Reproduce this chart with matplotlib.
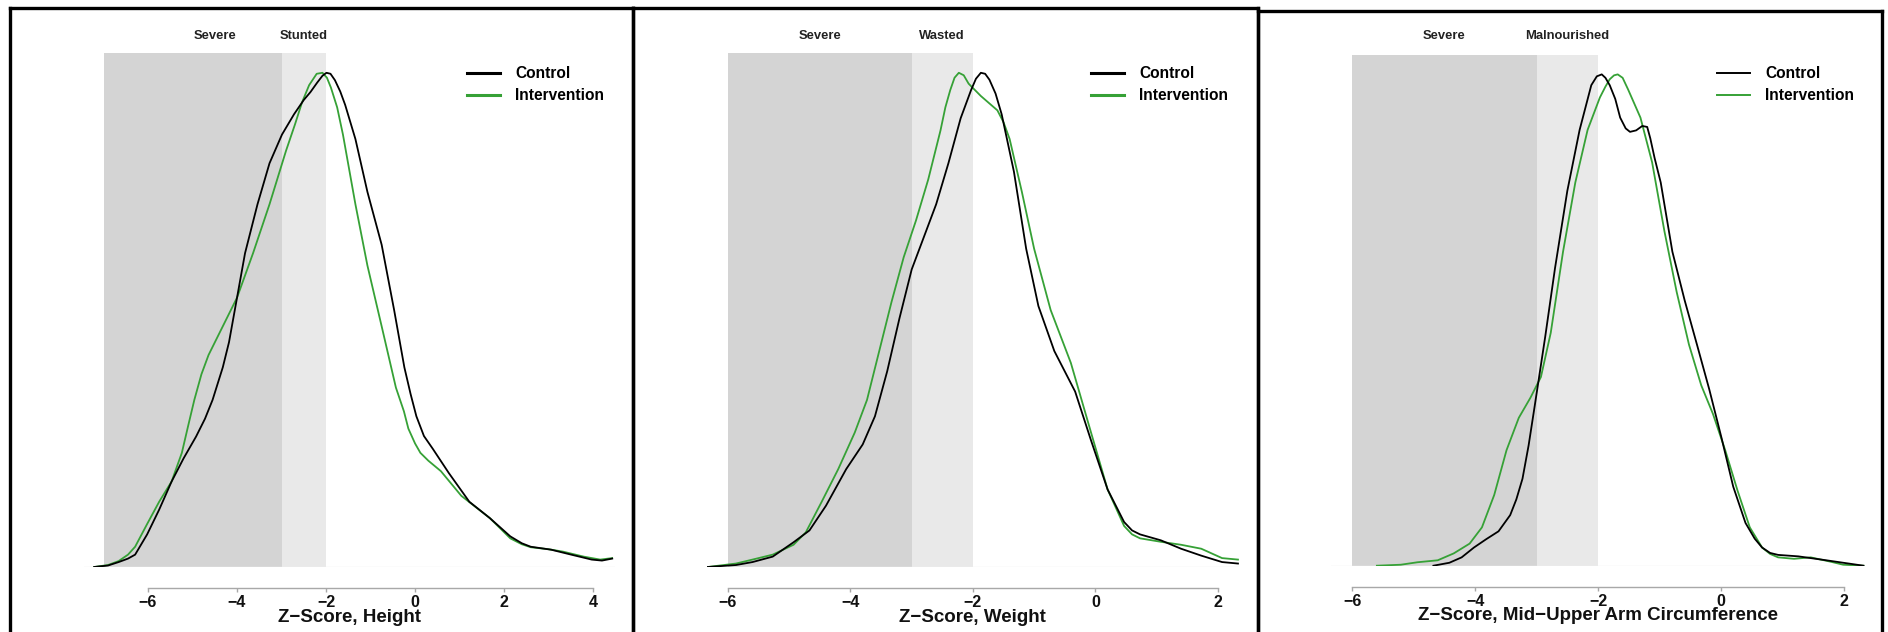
import matplotlib.pyplot as plt
from matplotlib.lines import Line2D

plt.rcParams['font.family'] = ['Liberation Sans Narrow', 'Liberation Sans', 'DejaVu Sans']
plt.rcParams['axes.unicode_minus'] = True

# relative density (peak = 1)

# Height-for-age
heightControlX = [-7.21, -6.9, -6.66, -6.45, -6.29, -6.02, -5.75, -5.47, -5.2, -4.92, -4.72, -4.55, -4.32,
                  -4.18, -4.05, -3.82, -3.54, -3.27, -2.99, -2.72, -2.5, -2.35, -2.2, -2.08, -1.99,
                  -1.9, -1.80, -1.68, -1.57, -1.34, -1.07, -0.75, -0.47, -0.24, -0.1, 0.03, 0.2,
                  0.40, 0.76, 1.22, 1.68, 2.14, 2.40, 2.60, 3.06, 3.51, 3.97, 4.2, 4.43]
heightControlY = [0, 0.003, 0.01, 0.017, 0.025, 0.066, 0.116, 0.173, 0.22, 0.264, 0.3, 0.338, 0.404,
                  0.455, 0.52, 0.635, 0.734, 0.817, 0.875, 0.916, 0.945, 0.961, 0.98, 0.994, 1.0,
                  0.998, 0.985, 0.962, 0.935, 0.866, 0.759, 0.652, 0.52, 0.404, 0.35, 0.305, 0.265,
                  0.239, 0.19, 0.132, 0.099, 0.062, 0.048, 0.041, 0.035, 0.025, 0.015, 0.013, 0.017]
heightInterventionX = [-7.21, -6.9, -6.66, -6.45, -6.29, -6.02, -5.75, -5.47, -5.24, -5.1, -4.96, -4.8,
                       -4.64, -4.32, -4.0, -3.64, -3.27, -2.90, -2.70, -2.54, -2.38, -2.21, -2.08,
                       -1.98, -1.89, -1.75, -1.62, -1.34, -1.07, -0.75, -0.43, -0.25, -0.15, 0.0,
                       0.12, 0.3, 0.58, 1.04, 1.68, 2.14, 2.40, 2.60, 3.0, 3.33, 3.79, 4.16, 4.43]
heightInterventionY = [0, 0.004, 0.012, 0.025, 0.041, 0.087, 0.132, 0.173, 0.231, 0.285, 0.338, 0.39,
                       0.429, 0.487, 0.545, 0.635, 0.734, 0.842, 0.895, 0.94, 0.975, 0.998, 1.0,
                       0.99, 0.97, 0.93, 0.875, 0.734, 0.61, 0.487, 0.363, 0.315, 0.28, 0.25,
                       0.231, 0.215, 0.194, 0.144, 0.099, 0.058, 0.046, 0.040, 0.036, 0.031, 0.021, 0.015, 0.018]

# Weight-for-height
weightControlX = [-6.33, -5.87, -5.6, -5.27, -4.93, -4.67, -4.4, -4.07, -3.8, -3.6, -3.4, -3.2,
                  -3.0, -2.8, -2.6, -2.4, -2.2, -2.03, -1.95, -1.87, -1.8, -1.73, -1.63, -1.53, -1.33,
                  -1.13, -0.93, -0.67, -0.33, -0.07, 0.2, 0.47, 0.6, 0.73, 1.07, 1.4, 1.73, 2.07, 2.33]
weightControlY = [0, 0.004, 0.01, 0.021, 0.05, 0.074, 0.124, 0.198, 0.248, 0.305, 0.396, 0.503,
                  0.602, 0.668, 0.734, 0.817, 0.908, 0.965, 0.988, 1.0, 0.998, 0.986, 0.958, 0.916, 0.80,
                  0.644, 0.528, 0.437, 0.355, 0.256, 0.157, 0.091, 0.074, 0.066, 0.054, 0.037, 0.023, 0.01, 0.007]
weightInterventionX = [-6.33, -5.87, -5.6, -5.27, -4.93, -4.73, -4.47, -4.2, -3.93, -3.73, -3.53, -3.33,
                       -3.13, -2.93, -2.73, -2.53, -2.45, -2.37, -2.3, -2.23, -2.15, -2.07, -1.87, -1.6,
                       -1.5, -1.4, -1.2, -1.0, -0.73, -0.4, -0.07, 0.2, 0.47, 0.6, 0.73, 1.07, 1.4, 1.73,
                       2.07, 2.33]
weightInterventionY = [0, 0.007, 0.015, 0.025, 0.045, 0.07, 0.132, 0.198, 0.272, 0.338, 0.437, 0.536,
                       0.627, 0.701, 0.784, 0.883, 0.93, 0.965, 0.99, 1.0, 0.995, 0.978, 0.953, 0.924,
                       0.9, 0.866, 0.759, 0.644, 0.52, 0.413, 0.272, 0.157, 0.083, 0.066, 0.058, 0.051,
                       0.045, 0.037, 0.018, 0.015]

# Mid-upper arm circumference
muacControlX = [-4.68, -4.42, -4.22, -4.02, -3.82, -3.62, -3.43, -3.33, -3.23, -3.13, -3.03, -2.86, -2.70,
                -2.50, -2.30, -2.11, -2.02, -1.94, -1.88, -1.81, -1.72, -1.64, -1.55, -1.48, -1.38, -1.28,
                -1.2, -1.15, -1.08, -0.98, -0.79, -0.59, -0.39, -0.19, 0.01, 0.20, 0.40, 0.55, 0.67,
                0.8, 0.93, 1.26, 1.66, 1.99, 2.32]
muacControlY = [0, 0.006, 0.017, 0.037, 0.054, 0.07, 0.103, 0.135, 0.177, 0.245, 0.326, 0.466, 0.606,
                0.763, 0.887, 0.978, 0.996, 1.0, 0.993, 0.978, 0.95, 0.912, 0.89, 0.883, 0.886, 0.895,
                0.893, 0.870, 0.83, 0.78, 0.639, 0.54, 0.45, 0.359, 0.26, 0.161, 0.087, 0.055, 0.037,
                0.026, 0.022, 0.019, 0.012, 0.006, 0]
muacInterventionX = [-5.60, -5.21, -4.94, -4.61, -4.35, -4.09, -3.89, -3.69, -3.49, -3.29, -3.10, -2.93,
                     -2.77, -2.57, -2.37, -2.17, -1.97, -1.88, -1.81, -1.74, -1.68, -1.6, -1.51, -1.31,
                     -1.12, -0.92, -0.72, -0.52, -0.32, -0.13, 0.07, 0.27, 0.47, 0.67, 0.8, 0.93, 1.19,
                     1.46, 1.79, 1.99, 2.32]
muacInterventionY = [0, 0.002, 0.007, 0.011, 0.025, 0.045, 0.078, 0.144, 0.235, 0.301, 0.342, 0.384,
                     0.474, 0.639, 0.78, 0.887, 0.953, 0.975, 0.99, 0.998, 1.0, 0.993, 0.969, 0.912,
                     0.821, 0.681, 0.557, 0.45, 0.367, 0.309, 0.235, 0.153, 0.078, 0.037, 0.024, 0.017,
                     0.014, 0.017, 0.008, 0.002, 0]

xLabels = ['Z\u2212Score, Height', 'Z\u2212Score, Weight', 'Z\u2212Score, Mid\u2212Upper Arm Circumference']
zoneLabels = ['Stunted', 'Wasted', 'Malnourished']
severeStart = [-7, -6, -6]
legendLabels = ['Control', 'Intervention']
greenColor = '#36a136'

W, H = 1888, 632
fig = plt.figure(figsize=(W / 100, H / 100), dpi=100)


def fx(px):
    return px / W


def fy(py):
    return 1 - py / H


# layout in pixels: left, right, top (shade top), bottom (baseline), xlim, ticks, legend x, legend lw
layout = [
    dict(L=83.5, R=615.3, T=53, B=567, xlim=(-7.45, 4.5), ticks=[-6, -4, -2, 0, 2, 4], legX=467, legLw=2.2),
    dict(L=706.6, R=1239.2, T=53, B=567, xlim=(-6.35, 2.35), ticks=[-6, -4, -2, 0, 2], legX=1091, legLw=2.2),
    dict(L=1330.8, R=1865.3, T=54.7, B=565.7, xlim=(-6.35, 2.35), ticks=[-6, -4, -2, 0, 2], legX=1717, legLw=1.4),
]
series = [
    (heightControlX, heightControlY, heightInterventionX, heightInterventionY),
    (weightControlX, weightControlY, weightInterventionX, weightInterventionY),
    (muacControlX, muacControlY, muacInterventionX, muacInterventionY),
]

for i in range(3):
    lay = layout[i]
    ax = fig.add_axes([fx(lay['L']), fy(lay['B']), (lay['R'] - lay['L']) / W, (lay['B'] - lay['T']) / H])
    ax.set_facecolor('none')
    ax.set_xlim(lay['xlim'])
    ytop = 1 / 0.9615
    ax.set_ylim(0, ytop)

    ax.axvspan(severeStart[i], -3, color='#d4d4d4', lw=0, zorder=0)
    ax.axvspan(-3, -2, color='#e9e9e9', lw=0, zorder=0)
    ax.axhline(0, color='#efefef', lw=1, zorder=0.5)

    cx, cy, ix, iy = series[i]
    ax.plot(cx, cy, color='black', lw=1.3, zorder=3, solid_joinstyle='round')
    ax.plot(ix, iy, color=greenColor, lw=1.3, zorder=2, solid_joinstyle='round')

    trans = ax.get_xaxis_transform()
    labY = (lay['B'] - 36) / (lay['B'] - lay['T'])
    ax.text(-4.5, labY, 'Severe', transform=trans, ha='center', va='center',
            fontsize=9.4, fontweight='bold', color='#222222')
    ax.text(-2.5, labY, zoneLabels[i], transform=trans, ha='center', va='center',
            fontsize=9.4, fontweight='bold', color='#222222')

    for s in ['left', 'right', 'top']:
        ax.spines[s].set_visible(False)
    ax.spines['bottom'].set_bounds(lay['ticks'][0], lay['ticks'][-1])
    ax.spines['bottom'].set_position(('outward', 21 * 0.72))
    ax.spines['bottom'].set_color('#a8a8a8')
    ax.spines['bottom'].set_linewidth(1.0)
    ax.set_xticks(lay['ticks'])
    ax.set_xticklabels([('\u2212' + str(-t)) if t < 0 else str(t) for t in lay['ticks']],
                       fontweight='bold')
    ax.tick_params(axis='x', length=3, width=1, color='#a8a8a8', labelsize=11.5, pad=2, labelcolor='#111111')
    ax.set_yticks([])
    ax.set_xlabel(xLabels[i], fontsize=13.5, fontweight='bold', labelpad=-1, color='#111111')

    handles = [Line2D([], [], color='black', lw=lay['legLw']),
               Line2D([], [], color=greenColor, lw=lay['legLw'])]
    ax.legend(handles, legendLabels, loc='upper left', bbox_to_anchor=(fx(lay['legX']), fy(66)),
              bbox_transform=fig.transFigure, frameon=False, prop={'weight': 'bold', 'size': 11.2},
              handlelength=2.1, handletextpad=1.0, labelspacing=0.45, borderpad=0, borderaxespad=0)

# panel frames
frames = [(9.5, 633, 8), (633, 1257.5, 8), (1257.5, 1882, 10.5)]
for left, right, top in frames:
    for xs, ys in [([left, right], [top, top]), ([left, left], [top, H]), ([right, right], [top, H])]:
        fig.add_artist(Line2D([fx(v) for v in xs], [fy(v) for v in ys], color='black', lw=2.4,
                              transform=fig.transFigure, solid_capstyle='projecting'))

fig.savefig('out.png', dpi=100)
